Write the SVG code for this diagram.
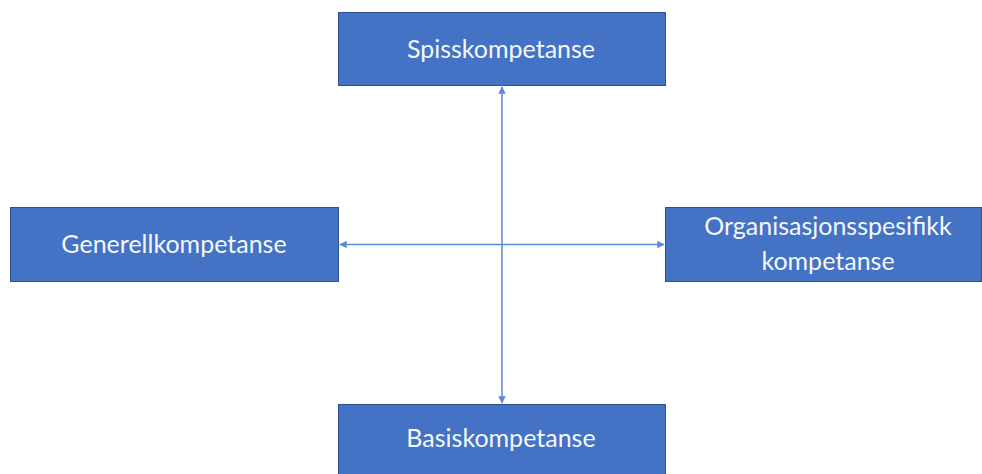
<svg xmlns="http://www.w3.org/2000/svg" width="982" height="474" viewBox="0 0 982 474">
  <style>
    .box { fill: #4472c4; stroke: #2f528f; stroke-width: 1; }
    .label { font-family: Lato, "Open Sans", "Liberation Sans", sans-serif; font-size: 25px; fill: #f4f7fc; text-anchor: middle; }
    .link { stroke: #5b8ad8; stroke-width: 1.5; fill: none; }
  </style>
  <defs>
    <marker id="arrow" viewBox="0 0 10 10" refX="9" refY="5" markerWidth="5" markerHeight="5" orient="auto-start-reverse" markerUnits="strokeWidth">
      <path d="M0,0 L10,5 L0,10 z" fill="#5b8ad8"/>
    </marker>
  </defs>

  <g id="connectors">
    <line class="link" x1="502" y1="87" x2="502" y2="403" marker-start="url(#arrow)" marker-end="url(#arrow)"/>
    <line class="link" x1="340" y1="244.5" x2="664" y2="244.5" marker-start="url(#arrow)" marker-end="url(#arrow)"/>
  </g>

  <g id="spisskompetanse">
    <rect class="box" x="338.5" y="12.5" width="327" height="73"/>
    <text class="label" x="501" y="58">Spisskompetanse</text>
  </g>

  <g id="generellkompetanse">
    <rect class="box" x="10.5" y="207.5" width="328" height="74"/>
    <text class="label" x="174" y="253">Generellkompetanse</text>
  </g>

  <g id="organisasjonsspesifikk">
    <rect class="box" x="665.5" y="207.5" width="316" height="74"/>
    <text class="label" x="828" y="235">Organisasjonsspesifikk</text>
    <text class="label" x="828" y="270">kompetanse</text>
  </g>

  <g id="basiskompetanse">
    <rect class="box" x="338.5" y="404.5" width="327" height="74"/>
    <text class="label" x="501" y="447">Basiskompetanse</text>
  </g>
</svg>
